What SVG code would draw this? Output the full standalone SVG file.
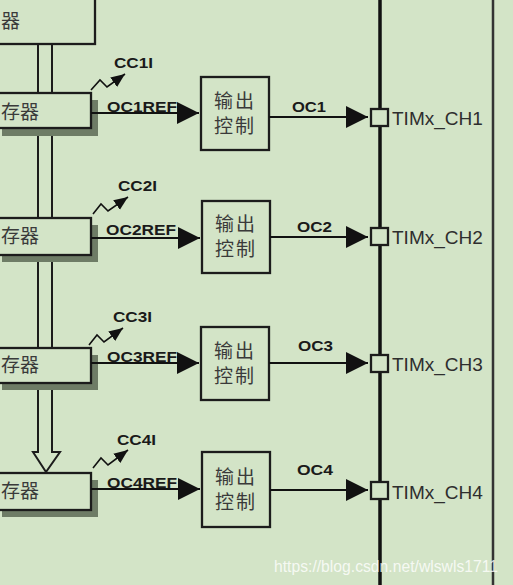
<svg xmlns="http://www.w3.org/2000/svg" width="513" height="585" viewBox="0 0 513 585">
<style>
.bg{fill:#d3e4c7}
.box{fill:#d3e4c7;stroke:#1c1c1c;stroke-width:2.3}
.shadow{fill:#6e7c66}
.bus{fill:none;stroke:#1c1c1c;stroke-width:2}
.wire{fill:none;stroke:#111;stroke-width:2.2}
.zig{fill:none;stroke:#111;stroke-width:1.6}
.rail{stroke:#111;stroke-width:3.5}
.frame{stroke:#333;stroke-width:2.5}
.lbl{font-family:"Liberation Sans",Arial,sans-serif;font-weight:bold;font-size:14px;fill:#1a1a1a}
.pin{font-family:"Liberation Sans",Arial,sans-serif;font-size:19px;fill:#2e2e2e}
.cn{font-family:"Noto Sans CJK SC","Noto Sans CJK JP",sans-serif;font-size:19px;fill:#3a3a3a}
.wm{font-family:"Liberation Sans",Arial,sans-serif;font-size:17px;fill:#ffffff;fill-opacity:0.8}
</style>
<defs>
<marker id="big" markerUnits="userSpaceOnUse" markerWidth="22" markerHeight="22" refX="20" refY="10" orient="auto" viewBox="0 0 20 20">
<path d="M0,0 L20,10 L0,20 Z" fill="#111"/>
</marker>
<marker id="small" markerUnits="userSpaceOnUse" markerWidth="14" markerHeight="12" refX="12" refY="5" orient="auto" viewBox="0 0 12 10">
<path d="M0,0 L12,5 L0,10 Z" fill="#111"/>
</marker>
</defs>
<rect class="bg" x="0" y="0" width="513" height="585"/>

<g id="rails">
<line class="rail" x1="380" y1="0" x2="380" y2="585"/>
<line class="frame" x1="493" y1="0" x2="493" y2="585"/>
</g>

<g id="register-top">
<rect class="box" x="-5" y="-5" width="100" height="49"/>
<text class="cn" x="1" y="28">器</text>
</g>

<g id="register1">
<rect class="shadow" x="2" y="100" width="96" height="36"/>
<rect class="box" x="-5" y="93" width="96" height="35"/>
<text class="cn" x="1" y="119" font-size="18">存器</text>
</g>
<g id="register2">
<rect class="shadow" x="2" y="225" width="96" height="37"/>
<rect class="box" x="-5" y="218" width="96" height="37"/>
<text class="cn" x="1" y="243" font-size="18">存器</text>
</g>
<g id="register3">
<rect class="shadow" x="2" y="355" width="96" height="35"/>
<rect class="box" x="-5" y="348" width="96" height="35"/>
<text class="cn" x="1" y="372" font-size="18">存器</text>
</g>
<g id="register4">
<rect class="shadow" x="2" y="480" width="96" height="37"/>
<rect class="box" x="-5" y="473" width="96" height="37"/>
<text class="cn" x="1" y="498" font-size="18">存器</text>
</g>

<g id="out1">
<rect class="box" x="201" y="77" width="68" height="73"/>
<text class="cn" x="235" y="108" text-anchor="middle" letter-spacing="2">输出</text>
<text class="cn" x="235" y="133" text-anchor="middle" letter-spacing="2">控制</text>
</g>
<g id="out2">
<rect class="box" x="202" y="201" width="68" height="72"/>
<text class="cn" x="236" y="231" text-anchor="middle" letter-spacing="2">输出</text>
<text class="cn" x="236" y="256" text-anchor="middle" letter-spacing="2">控制</text>
</g>
<g id="out3">
<rect class="box" x="201" y="327" width="68" height="73"/>
<text class="cn" x="235" y="358" text-anchor="middle" letter-spacing="2">输出</text>
<text class="cn" x="235" y="383" text-anchor="middle" letter-spacing="2">控制</text>
</g>
<g id="out4">
<rect class="box" x="202" y="452" width="68" height="75"/>
<text class="cn" x="236" y="484" text-anchor="middle" letter-spacing="2">输出</text>
<text class="cn" x="236" y="509" text-anchor="middle" letter-spacing="2">控制</text>
</g>

<g id="pin1">
<rect class="box" x="371" y="109" width="17" height="17"/>
<text class="pin" x="392" y="125">TIMx_CH1</text>
</g>
<g id="pin2">
<rect class="box" x="371" y="228" width="17" height="17"/>
<text class="pin" x="392" y="244">TIMx_CH2</text>
</g>
<g id="pin3">
<rect class="box" x="371" y="355" width="17" height="17"/>
<text class="pin" x="392" y="371">TIMx_CH3</text>
</g>
<g id="pin4">
<rect class="box" x="371" y="482" width="17" height="17"/>
<text class="pin" x="392" y="499">TIMx_CH4</text>
</g>

<g id="connectors">
<line class="bus" x1="38" y1="44" x2="38" y2="93"/>
<line class="bus" x1="52" y1="44" x2="52" y2="93"/>
<line class="bus" x1="38" y1="136" x2="38" y2="218"/>
<line class="bus" x1="52" y1="136" x2="52" y2="218"/>
<line class="bus" x1="38" y1="262" x2="38" y2="348"/>
<line class="bus" x1="52" y1="262" x2="52" y2="348"/>
<path class="bus" d="M38,390 L38,452 L33,452 L46,472 L60,452 L52,452 L52,390" stroke-linejoin="miter"/>

<line class="wire" x1="91" y1="113" x2="199" y2="113" marker-end="url(#big)"/>
<line class="wire" x1="91" y1="238" x2="200" y2="238" marker-end="url(#big)"/>
<line class="wire" x1="91" y1="363" x2="199" y2="363" marker-end="url(#big)"/>
<line class="wire" x1="91" y1="489" x2="200" y2="489" marker-end="url(#big)"/>

<line class="wire" x1="269" y1="117" x2="368" y2="117" marker-end="url(#big)"/>
<line class="wire" x1="270" y1="237" x2="368" y2="237" marker-end="url(#big)"/>
<line class="wire" x1="269" y1="363" x2="368" y2="363" marker-end="url(#big)"/>
<line class="wire" x1="270" y1="490" x2="368" y2="490" marker-end="url(#big)"/>

<polyline class="zig" points="91,90 100,80 107,87 125,74" marker-end="url(#small)"/>
<polyline class="zig" points="93,214 101,204 108,211 128,197" marker-end="url(#small)"/>
<polyline class="zig" points="89,345 97,335 104,342 123,328" marker-end="url(#small)"/>
<polyline class="zig" points="93,468 101,458 108,465 128,450" marker-end="url(#small)"/>
</g>

<g id="labels">
<text class="lbl" x="114" y="68" textLength="39" lengthAdjust="spacingAndGlyphs">CC1I</text>
<text class="lbl" x="118" y="191" textLength="39" lengthAdjust="spacingAndGlyphs">CC2I</text>
<text class="lbl" x="113" y="322" textLength="39" lengthAdjust="spacingAndGlyphs">CC3I</text>
<text class="lbl" x="117" y="445" textLength="39" lengthAdjust="spacingAndGlyphs">CC4I</text>
<text class="lbl" x="107" y="112" textLength="70" lengthAdjust="spacingAndGlyphs">OC1REF</text>
<text class="lbl" x="106" y="235" textLength="70" lengthAdjust="spacingAndGlyphs">OC2REF</text>
<text class="lbl" x="107" y="362" textLength="70" lengthAdjust="spacingAndGlyphs">OC3REF</text>
<text class="lbl" x="107" y="488" textLength="70" lengthAdjust="spacingAndGlyphs">OC4REF</text>
<text class="lbl" x="292" y="112" textLength="34" lengthAdjust="spacingAndGlyphs">OC1</text>
<text class="lbl" x="297" y="232" textLength="35" lengthAdjust="spacingAndGlyphs">OC2</text>
<text class="lbl" x="298" y="351" textLength="35" lengthAdjust="spacingAndGlyphs">OC3</text>
<text class="lbl" x="297" y="475" textLength="36" lengthAdjust="spacingAndGlyphs">OC4</text>
</g>

<text class="wm" x="274" y="572" textLength="224" lengthAdjust="spacingAndGlyphs">https://blog.csdn.net/wlswls1711</text>
</svg>
